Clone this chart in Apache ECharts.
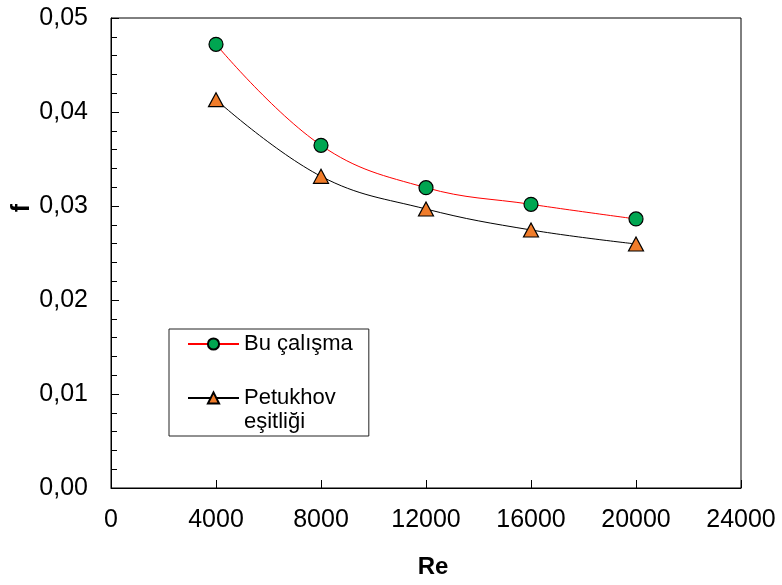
<!DOCTYPE html>
<html>
<head>
<meta charset="utf-8">
<script src="https://cdn.jsdelivr.net/npm/echarts@6/dist/echarts.min.js"></script>
<style>
  html, body { margin: 0; padding: 0; background: #fff; }
  #chart { width: 782px; height: 585px; }
</style>
</head>
<body>
<div id="chart"></div>
<script>
// Re değerleri
var reValues = [4000, 8000, 12000, 16000, 20000];
// bu çalışma (deney)
var fBuCalisma = [0.0472, 0.03646, 0.03195, 0.03018, 0.02862];
// Petukhov eşitliği
var fPetukhov = [0.04131, 0.03316, 0.02968, 0.02745, 0.02596];
var seriesNames = ['Bu çalışma', 'Petukhov eşitliği'];

var font = '"Liberation Sans", Arial, sans-serif';

function pairs(xs, ys) {
  return xs.map(function (x, i) { return [x, ys[i]]; });
}

var myChart = echarts.init(document.getElementById('chart'));

var option = {
  backgroundColor: '#fff',
  animation: false,
  textStyle: { fontFamily: font, color: '#000' },
  grid: {
    left: 111,
    top: 18,
    right: 41,
    bottom: 97,
    show: true,
    borderColor: '#000',
    borderWidth: 1
  },
  legend: {
    orient: 'vertical',
    left: 169,
    top: 329,
    padding: [3, 16, 2, 18],
    borderColor: '#222',
    borderWidth: 1,
    itemWidth: 51,
    itemHeight: 14,
    itemGap: 6,
    data: seriesNames,
    // boş ilk satır: ikon "Petukhov" satırıyla aynı hizada kalsın
    formatter: function (name) {
      return name === seriesNames[1] ? '\nPetukhov\neşitliği' : name;
    },
    textStyle: {
      fontFamily: font,
      fontSize: 22,
      lineHeight: 24,
      color: '#000'
    }
  },
  xAxis: {
    type: 'value',
    min: 0,
    max: 24000,
    interval: 4000,
    name: 'Re',
    nameLocation: 'middle',
    nameGap: 67,
    nameTextStyle: {
      fontFamily: font,
      fontSize: 24,
      fontWeight: 'bold',
      color: '#000',
      padding: [0, 0, 0, 14]
    },
    axisLine: { lineStyle: { color: '#000', width: 1 } },
    axisTick: { inside: true, length: 8, lineStyle: { color: '#000' } },
    axisLabel: {
      margin: 20,
      fontSize: 25,
      fontFamily: font,
      color: '#000',
      formatter: function (v) { return String(v); }
    },
    splitLine: { show: false }
  },
  yAxis: {
    type: 'value',
    min: 0,
    max: 0.05,
    interval: 0.01,
    axisLine: { show: true, lineStyle: { color: '#000', width: 1 } },
    axisTick: { show: true, inside: true, length: 8, lineStyle: { color: '#000' } },
    minorTick: { show: true, splitNumber: 5, length: 6, lineStyle: { color: '#000' } },
    axisLabel: {
      margin: 23,
      fontSize: 25,
      fontFamily: font,
      color: '#000',
      formatter: function (v) { return v.toFixed(2).replace('.', ','); }
    },
    splitLine: { show: false }
  },
  // y ekseni adı (dikey, 0,03 hizasında)
  graphic: [
    {
      type: 'text',
      x: 22,
      y: 208,
      rotation: Math.PI / 2,
      style: {
        text: 'f',
        font: 'bold 25px ' + font,
        fill: '#000',
        align: 'center',
        verticalAlign: 'middle'
      }
    }
  ],
  series: [
    {
      name: seriesNames[0],
      type: 'line',
      data: pairs(reValues, fBuCalisma),
      smooth: 0.4,
      symbol: 'circle',
      symbolSize: 14,
      lineStyle: { color: '#ff0000', width: 1 },
      itemStyle: { color: '#00a651', borderColor: '#000', borderWidth: 1.2 },
      z: 3
    },
    {
      name: seriesNames[1],
      type: 'line',
      data: pairs(reValues, fPetukhov),
      smooth: 0.4,
      symbol: 'triangle',
      symbolSize: [15, 14],
      lineStyle: { color: '#000', width: 1 },
      itemStyle: { color: '#f07c2a', borderColor: '#000', borderWidth: 1.2 },
      z: 2
    }
  ]
};

myChart.setOption(option);
</script>
</body>
</html>
